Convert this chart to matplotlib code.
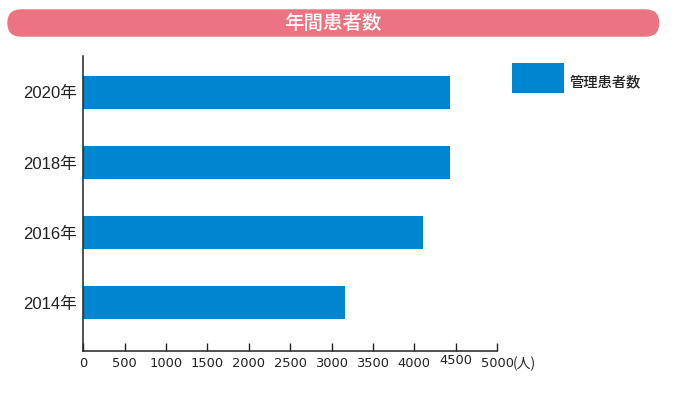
import matplotlib
matplotlib.use("Agg")
import matplotlib.pyplot as plt
from matplotlib.patches import FancyBboxPatch, Rectangle
from matplotlib.transforms import ScaledTranslation

years = ["2014年", "2016年", "2018年", "2020年"]
patients = [3160, 4100, 4435, 4432]
xticks = [0, 500, 1000, 1500, 2000, 2500, 3000, 3500, 4000, 4500, 5000]
xticklabels = ["0", "500", "1000", "1500", "2000", "2500", "3000", "3500", "4000", "4500", "5000"]
title = "年間患者数"
series_name = "管理患者数"
unit = "(人)"

FONTS = ["Liberation Sans", "Noto Sans CJK JP", "DejaVu Sans"]
plt.rcParams["font.family"] = FONTS

BLUE = "#0085D0"
PINK = "#EC7382"
TXT = "#222222"

W, H = 674, 400
fig = plt.figure(figsize=(W / 100, H / 100), dpi=100)

left, right = 83.3, 497.0
top_px, bot_px = 56.0, 351.0
ax = fig.add_axes([left / W, (H - bot_px) / H, (right - left) / W, (bot_px - top_px) / H])

ypos = list(range(len(years)))
ax.barh(ypos, patients, height=0.47, color=BLUE, edgecolor="none")
ax.set_xlim(0, 5000)
ax.set_ylim(-0.69, 3.52)

ax.set_yticks(ypos)
ax.set_yticklabels(years, fontsize=12, color=TXT)
ax.tick_params(axis="y", length=0, pad=4.5)

ax.set_xticks(xticks)
ax.set_xticklabels(xticklabels, fontsize=9.4, color=TXT,
                   family=["DejaVu Sans", "Noto Sans CJK JP"])
ax.tick_params(axis="x", direction="in", length=6, width=1.0, color=TXT, pad=4.5)

for s in ["top", "right"]:
    ax.spines[s].set_visible(False)
for s in ["left", "bottom"]:
    ax.spines[s].set_color(TXT)
    ax.spines[s].set_linewidth(1.1)

labels = ax.get_xticklabels()
labels[9].set_transform(labels[9].get_transform() + ScaledTranslation(0, 2 / 72, fig.dpi_scale_trans))

fig.canvas.draw()
lbl5000 = ax.get_xticklabels()[-1]
ax.annotate(unit, xy=(1, 0.5), xycoords=lbl5000, xytext=(-0.5, 0), textcoords="offset points",
            ha="left", va="center", fontsize=10, color=TXT,
            family=["Noto Sans CJK JP", "DejaVu Sans"])

# title banner
bx0, bx1 = 7.3, 659.3
by_top, by_bot = 9.3, 36.7
bh = by_bot - by_top
banner = FancyBboxPatch((bx0, H - by_bot), bx1 - bx0, bh,
                        boxstyle=f"round,pad=0,rounding_size={bh / 2}",
                        transform=None, facecolor=PINK, edgecolor="none")
fig.patches.append(banner)
fig.text(333 / W, (H - 23) / H, title, ha="center", va="center", color="white",
         fontsize=14, fontweight="medium", family=["Noto Sans CJK JP", "DejaVu Sans"])

# legend
leg = Rectangle((512.3, H - 92.7), 564 - 512.3, 92.7 - 63.3, transform=None,
                facecolor=BLUE, edgecolor="none")
fig.patches.append(leg)
fig.text(570 / W, (H - 82) / H, series_name, ha="left", va="center", color=TXT,
         fontsize=10.3, fontweight="medium", family=["Noto Sans CJK JP", "DejaVu Sans"])

fig.savefig("out.png", dpi=100)
